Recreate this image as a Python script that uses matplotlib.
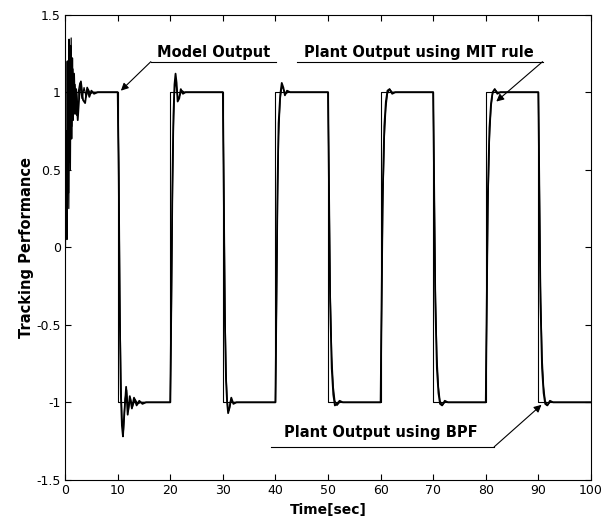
import matplotlib
matplotlib.use("Agg")
import matplotlib.pyplot as plt
import numpy as np

# reference model: square wave between +1 and -1, switching every 10 s
model_t = [0, 0, 10, 10, 20, 20, 30, 30, 40, 40, 50, 50, 60, 60, 70, 70, 80, 80, 90, 90, 100]
model_y = [0, 1, 1, -1, -1, 1, 1, -1, -1, 1, 1, -1, -1, 1, 1, -1, -1, 1, 1, -1, -1]

# plant output, MIT rule adaptation
mit_t = [0, 0.15, 0.3, 0.45, 0.6, 0.75, 0.9, 1.05, 1.2, 1.35, 1.5, 1.7, 1.9, 2.1, 2.4, 2.7,
         3.0, 3.4, 3.8, 4.2, 4.6, 5.0, 5.5, 6.2, 7.0,
         10.0, 10.2, 10.4, 10.6, 10.8, 11.0, 11.3, 11.6, 11.9, 12.3, 12.7, 13.1, 13.6, 14.1, 14.7, 15.4, 16.5,
         20.0, 20.2, 20.4, 20.6, 20.8, 21.0, 21.2, 21.4, 21.7, 22.0, 22.4, 22.9, 23.5,
         30.0, 30.2, 30.4, 30.6, 30.8, 31.0, 31.3, 31.6, 32.0, 32.6, 33.5,
         40.0, 40.2, 40.4, 40.6, 40.9, 41.2, 41.5, 41.8, 42.2, 42.8, 43.6,
         50.0, 50.2, 50.4, 50.7, 51.0, 51.3, 51.7, 52.2, 52.8, 53.6,
         60.0, 60.2, 60.4, 60.7, 61.0, 61.3, 61.7, 62.2, 62.8, 63.6,
         70.0, 70.2, 70.4, 70.7, 71.0, 71.3, 71.7, 72.2, 72.8, 73.6,
         80.0, 80.2, 80.4, 80.7, 81.0, 81.3, 81.7, 82.2, 82.8, 83.6,
         90.0, 90.2, 90.4, 90.7, 91.0, 91.3, 91.7, 92.2, 92.8, 93.6, 100.0]
mit_y = [0, 0.75, 0.15, 1.2, 0.35, 1.34, 0.55, 1.3, 0.7, 1.22, 0.82, 1.12, 0.86, 1.02, 0.82, 0.98,
         1.07, 0.95, 0.93, 1.03, 0.97, 1.01, 0.99, 1.0, 1.0,
         1.0, 0.45, -0.45, -0.95, -1.15, -1.22, -1.05, -0.9, -1.08, -0.96, -1.04, -0.97, -1.02, -0.99, -1.01, -1.0, -1.0,
         -1.0, -0.35, 0.4, 0.85, 1.05, 1.12, 1.06, 0.94, 0.96, 1.02, 0.99, 1.0, 1.0,
         1.0, 0.25, -0.5, -0.86, -1.0, -1.07, -1.03, -0.97, -1.01, -1.0, -1.0,
         -1.0, -0.3, 0.4, 0.8, 0.98, 1.06, 1.03, 0.98, 1.01, 1.0, 1.0,
         1.0, 0.3, -0.35, -0.78, -0.95, -1.02, -1.01, -0.99, -1.0, -1.0,
         -1.0, -0.3, 0.35, 0.78, 0.94, 1.01, 1.02, 0.99, 1.0, 1.0,
         1.0, 0.3, -0.35, -0.78, -0.94, -1.01, -1.02, -0.99, -1.0, -1.0,
         -1.0, -0.3, 0.35, 0.77, 0.93, 1.0, 1.02, 0.99, 1.0, 1.0,
         1.0, 0.3, -0.35, -0.78, -0.94, -1.01, -1.02, -0.99, -1.0, -1.0, -1.0]

# plant output, BPF based adaptation
bpf_t = [0, 0.2, 0.35, 0.5, 0.7, 0.85, 1.0, 1.15, 1.3, 1.5, 1.7, 1.9, 2.2, 2.5, 2.8,
         3.2, 3.6, 4.0, 4.4, 4.8, 5.3, 6.0, 7.0,
         10.0, 10.2, 10.4, 10.6, 10.8, 11.1, 11.4, 11.7, 12.0, 12.4, 12.8, 13.3, 13.8, 14.4, 15.2, 16.5,
         20.0, 20.2, 20.4, 20.6, 20.8, 21.0, 21.2, 21.5, 21.8, 22.2, 22.7, 23.3,
         30.0, 30.2, 30.4, 30.6, 30.8, 31.0, 31.2, 31.5, 31.9, 32.5, 33.5,
         40.0, 40.2, 40.4, 40.6, 40.9, 41.2, 41.5, 41.9, 42.4, 43.2,
         50.0, 50.2, 50.4, 50.7, 51.0, 51.3, 51.7, 52.2, 52.8, 53.6,
         60.0, 60.2, 60.4, 60.7, 61.0, 61.3, 61.7, 62.2, 62.8, 63.6,
         70.0, 70.2, 70.4, 70.7, 71.0, 71.3, 71.7, 72.2, 72.8, 73.6,
         80.0, 80.2, 80.4, 80.7, 81.0, 81.3, 81.7, 82.2, 82.8, 83.6,
         90.0, 90.2, 90.4, 90.7, 91.0, 91.3, 91.7, 92.2, 92.8, 93.6, 100.0]
bpf_y = [0, 0.6, 0.05, 1.1, 0.25, 1.28, 0.5, 1.35, 0.78, 1.15, 0.9, 1.05, 0.85, 1.0, 1.06,
         0.96, 1.03, 0.97, 1.02, 0.99, 1.0, 1.0, 1.0,
         1.0, 0.55, -0.3, -0.85, -1.1, -1.18, -0.98, -0.92, -1.06, -0.97, -1.03, -0.98, -1.01, -1.0, -1.0, -1.0,
         -1.0, -0.45, 0.3, 0.78, 1.0, 1.08, 1.03, 0.95, 0.98, 1.01, 1.0, 1.0,
         1.0, 0.35, -0.4, -0.8, -0.97, -1.05, -1.05, -0.98, -1.0, -1.0, -1.0,
         -1.0, -0.4, 0.3, 0.72, 0.95, 1.04, 1.02, 0.99, 1.0, 1.0,
         1.0, 0.38, -0.25, -0.7, -0.9, -0.99, -1.02, -1.0, -1.0, -1.0,
         -1.0, -0.38, 0.25, 0.7, 0.9, 0.99, 1.02, 1.0, 1.0, 1.0,
         1.0, 0.38, -0.25, -0.7, -0.9, -0.99, -1.02, -1.0, -1.0, -1.0,
         -1.0, -0.38, 0.25, 0.7, 0.9, 0.99, 1.02, 1.0, 1.0, 1.0,
         1.0, 0.38, -0.25, -0.7, -0.9, -0.99, -1.02, -1.0, -1.0, -1.0, -1.0]

fig = plt.figure(figsize=(6.03, 5.25), dpi=100)
ax = fig.add_axes([0.108, 0.086, 0.872, 0.886])

ax.plot(model_t, model_y, color="black", lw=0.8)
ax.plot(mit_t, mit_y, color="black", lw=1.3)
ax.plot(bpf_t, bpf_y, color="black", lw=0.9)

ax.set_xlim(0, 100)
ax.set_ylim(-1.5, 1.5)
ax.set_xticks(np.arange(0, 101, 10))
ax.set_yticks([-1.5, -1, -0.5, 0, 0.5, 1, 1.5])
ax.set_yticklabels(["-1.5", "-1", "-0.5", "0", "0.5", "1", "1.5"])
ax.tick_params(direction="in", length=4, width=0.8, top=True, right=True, labelsize=9, pad=3)
for s in ax.spines.values():
    s.set_linewidth(0.8)

ax.set_xlabel("Time[sec]", fontsize=10, fontweight="bold", labelpad=4)
ax.set_ylabel("Tracking Performance", fontsize=10.5, fontweight="bold", labelpad=2)

# labels with underline and leader arrow
arrow = dict(arrowstyle="-|>", color="black", lw=0.8, mutation_scale=11, shrinkA=0, shrinkB=0)

ax.text(17.4, 1.225, "Model Output", fontsize=10.5, fontweight="bold", ha="left", va="baseline")
ax.plot([16.3, 40.1], [1.197, 1.197], color="black", lw=0.8)
ax.annotate("", xy=(10.6, 1.01), xytext=(16.3, 1.197), arrowprops=arrow)

ax.text(45.4, 1.225, "Plant Output using MIT rule", fontsize=10.5, fontweight="bold", ha="left", va="baseline")
ax.plot([44.1, 90.8], [1.197, 1.197], color="black", lw=0.8)
ax.annotate("", xy=(82.0, 0.94), xytext=(90.8, 1.197), arrowprops=arrow)

ax.text(41.6, -1.223, "Plant Output using BPF", fontsize=10.5, fontweight="bold", ha="left", va="baseline")
ax.plot([39.1, 81.6], [-1.287, -1.287], color="black", lw=0.8)
ax.annotate("", xy=(90.6, -1.016), xytext=(81.6, -1.287), arrowprops=arrow)

fig.savefig("out.png", dpi=100)
